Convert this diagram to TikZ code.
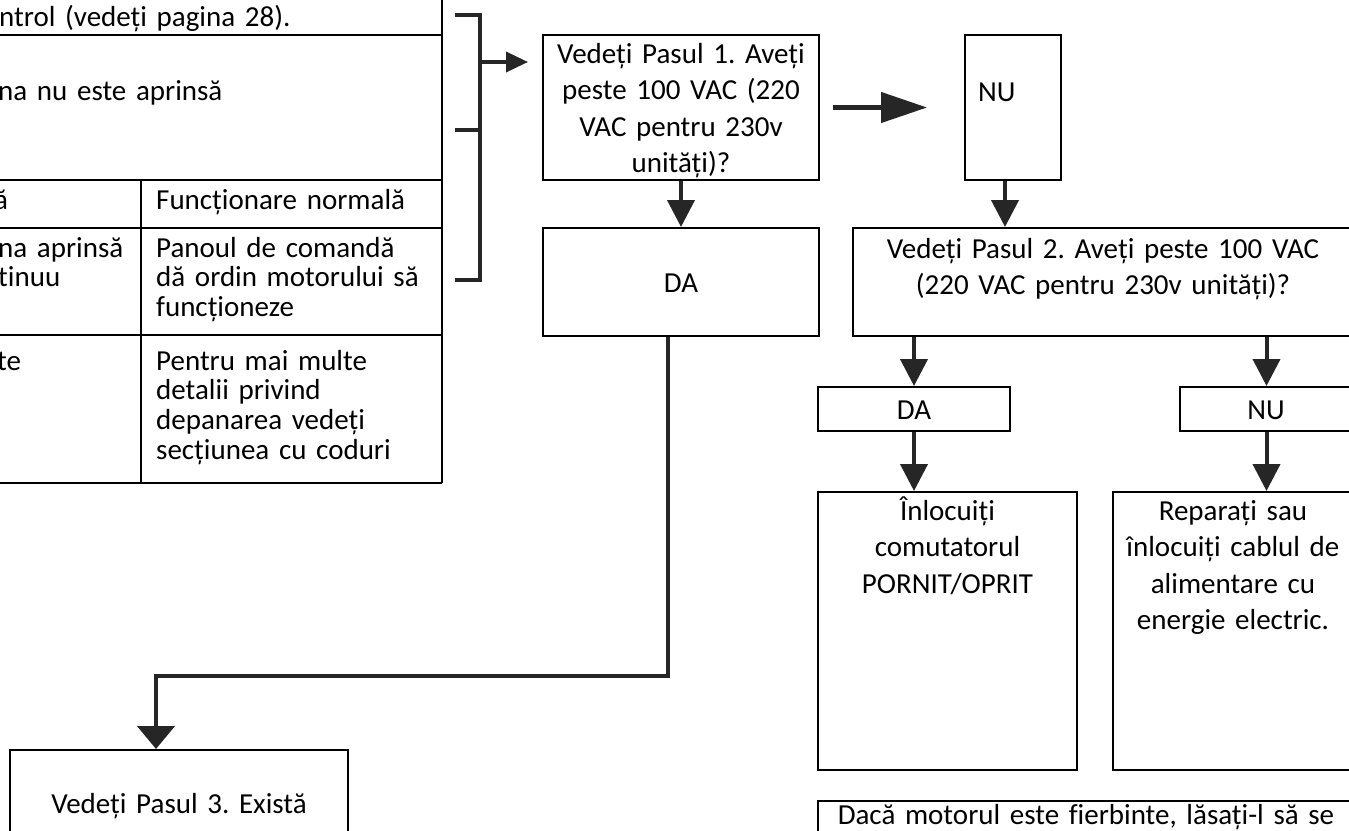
\documentclass[tikz,border=0pt]{standalone}
\usepackage{fontspec}
\setmainfont{Carlito}[Ligatures=CommonOff]
\usetikzlibrary{arrows.meta,positioning}
\frenchspacing

\begin{document}
\begin{tikzpicture}[
  x=1pt, y=-1pt,
  every node/.style={inner sep=0pt, font=\fontsize{29}{36.5}\selectfont},
  box/.style={draw, line width=2pt},
  txt/.style={anchor=base, align=center, text width=600pt},
  cell/.style={anchor=base west, align=left, text width=460pt, font=\fontsize{29}{29.8}\selectfont},
  rule/.style={line width=2pt},
  link/.style={line width=4pt, black!85},
  arr/.style={link, -{Triangle[length=27pt,width=27pt]}},
  bigarr/.style={link, line width=4.5pt, -{Triangle[length=46pt,width=30pt]}},
  smallarr/.style={link, line width=3.5pt, -{Triangle[length=22pt,width=20pt]}}
]
\useasboundingbox (0,0) rectangle (1349,830);
\clip (0,0) rectangle (1349,830);

% table
\foreach \y in {35,180,228,335,483}
  \draw[rule] (-5,\y) -- (442,\y);
\draw[rule] (442,-5) -- (442,483) (141,180) -- (141,483);
\node[cell] (r1) at (-1,26) {ntrol (vedeți pagina 28).};
\node[cell] (r2) at (-2,100) {na nu este aprinsă};
\node[cell] (r3a) at (-6,209) {ă};
\node[cell] (r3b) at (156,209) {Funcționare normală};
\node[cell] (r4a) at (-2,257) {na aprinsă\\tinuu};
\node[cell] (r4b) at (156,257) {Panoul de comandă\\dă ordin motorului să\\funcționeze};
\node[cell] (r5a) at (-3,370) {te};
\node[cell] (r5b) at (156,370) {Pentru mai multe\\detalii privind\\depanarea vedeți\\secțiunea cu coduri};

% bracket
\coordinate (brk) at (480,62);
\draw[link, line width=3.5pt] (455,15) -- (480,15) -- (480,280) -- (455,280) (455,130) -- (480,130);
\draw[smallarr, shorten >=15pt] (brk) -- (brk -| 543,0);

% boxes
\node[box, minimum width=276pt, minimum height=145pt] (step1) at (681,107.5) {};
\node[box, minimum width=96pt, minimum height=145pt] (no1) at (1013,107.5) {};
\node[box, minimum width=276pt, minimum height=108pt] (yes1) at (681,282) {};
\node[box, minimum width=500pt, minimum height=108pt] (step2) at (1103,282) {};
\node[box, minimum width=192pt, minimum height=44pt] (yes2) at (914,409) {};
\node[box, minimum width=173pt, minimum height=44pt] (no2) at (1266.5,409) {};
\node[box, minimum width=259pt, minimum height=278pt] (fix1) at (947.5,631) {};
\node[box, minimum width=240pt, minimum height=278pt] (fix2) at (1233,631) {};
\node[box, minimum width=535pt, minimum height=76pt] (hot) at (1085.5,839) {};
\node[box, minimum width=338pt, minimum height=100pt] (step3) at (179,800) {};

\node[txt] (step1txt) at (681,63) {Vedeți Pasul 1. Aveți\\peste 100 VAC (220\\VAC pentru 230v\\unități)?};
\node[anchor=base west] (no1txt) at (978,101) {NU};
\node[txt] (yes1txt) at (681,292) {DA};
\node[txt] (step2txt) at (1103,258) {Vedeți Pasul 2. Aveți peste 100 VAC\\(220 VAC pentru 230v unități)?};
\node[txt] (yes2txt) at (914,419) {DA};
\node[txt] (no2txt) at (1266,419) {NU};
\node[txt] (fix1txt) at (947.5,520) {Înlocuiți\\comutatorul\\PORNIT/OPRIT};
\node[txt] (fix2txt) at (1233,520) {Reparați sau\\înlocuiți cablul de\\alimentare cu\\energie electric.};
\node[txt] (hottxt) at (1086,824) {Dacă motorul este fierbinte, lăsați-l să se};
\node[txt] (step3txt) at (179,813) {Vedeți Pasul 3. Există};

% connectors
\draw[bigarr, shorten <=13pt, shorten >=37pt] (step1.east) -- (no1.west);
\draw[arr] (step1.south) -- (yes1.north);
\draw[arr] ([xshift=-8pt]no1.south) -- ([xshift=-8pt]no1.south |- step2.north);
\draw[arr] (yes2.north |- step2.south) -- (yes2.north);
\draw[arr] (no2.north |- step2.south) -- (no2.north);
\draw[arr] (yes2.south) -- (yes2.south |- fix1.north);
\draw[arr] (no2.south) -- (no2.south |- fix2.north);
\draw[link, line width=4.5pt, -{Triangle[length=23pt,width=37pt]}]
  ([xshift=-13pt]yes1.south) -- ++(0,339) -| ([xshift=-23pt]step3.north);
\end{tikzpicture}
\end{document}
